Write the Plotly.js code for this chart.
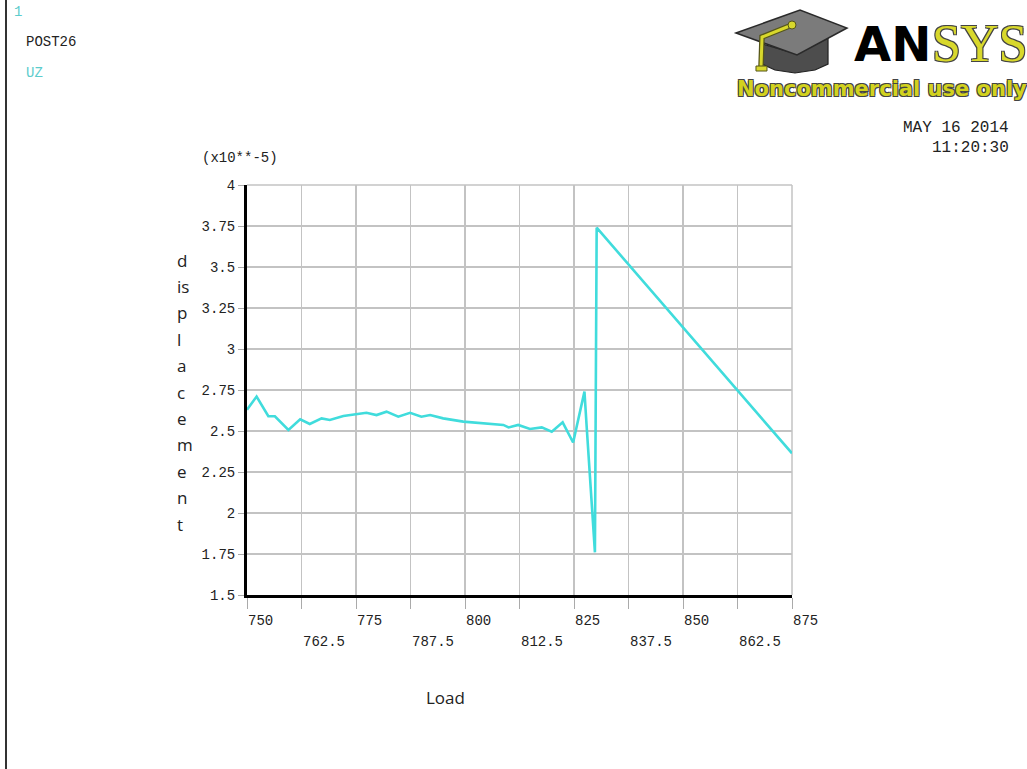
<!DOCTYPE html>
<html>
<head>
<meta charset="utf-8">
<script src="https://cdn.plot.ly/plotly-3.0.1.min.js"></script>
<style>
html,body{margin:0;padding:0;background:#fff;}
#chart{width:1027px;height:769px;}
</style>
</head>
<body>
<div id="chart"></div>
<script>
// ---- data ----
const load = [750, 752.2, 754.9, 756.4, 759.5, 762.2, 764.4, 767.1, 769, 772.1, 777.4, 779.7, 782, 784.7, 787.4, 790, 792, 795, 799.6, 804.2, 808.8, 810, 812.2, 814.9, 817.6, 819.9, 822.4, 824.8, 827.4, 827.9, 828.7, 829.8, 830.2, 875];
const uz   = [2.63, 2.71, 2.59, 2.59, 2.506, 2.571, 2.543, 2.577, 2.567, 2.591, 2.611, 2.597, 2.618, 2.587, 2.611, 2.587, 2.597, 2.577, 2.557, 2.547, 2.537, 2.522, 2.537, 2.512, 2.522, 2.496, 2.553, 2.43, 2.74, 2.53, 2.22, 1.76, 3.74, 2.364];

const xTicksRow1 = [750, 775, 800, 825, 850, 875];
const xTicksRow2 = [762.5, 787.5, 812.5, 837.5, 862.5];
const xLabelsRow1 = ["750", "775", "800", "825", "850", "875"];
const xLabelsRow2 = ["762.5", "787.5", "812.5", "837.5", "862.5"];
const yTicks = [4, 3.75, 3.5, 3.25, 3, 2.75, 2.5, 2.25, 2, 1.75, 1.5];
const yLabels = ["4", "3.75", "3.5", "3.25", "3", "2.75", "2.5", "2.25", "2", "1.75", "1.5"];
const yTitleParts = ["d", "is", "p", "l", "a", "c", "e", "m", "e", "n", "t"];
const xTitle = "Load";
const scaleLabel = "(x10**-5)";
const headerLines = ["1", "POST26", "UZ"];
const dateLines = ["MAY 16 2014", "11:20:30"];

// ---- geometry helpers (pixel -> paper) ----
const L = 247, R = 792, T = 185, B = 595;
const px = v => (v - L) / (R - L);
const py = v => (B - v) / (B - T);
const pathOf = pts => pts.map((p, i) => (i ? 'L' : 'M') + px(p[0]).toFixed(4) + ',' + py(p[1]).toFixed(4)).join(' ');

const mono = '"Liberation Mono", "DejaVu Sans Mono", monospace';
const sans = '"Open Sans", "Noto Sans", sans-serif';

const annotations = [];
// x tick labels (two staggered rows, left-aligned at tick)
xTicksRow1.forEach((v, i) => annotations.push({x: v, xref: 'x', y: py(621), yref: 'paper', text: xLabelsRow1[i], showarrow: false, xanchor: 'left', yanchor: 'middle', xshift: -1, font: {family: mono, size: 14, color: '#222'}}));
xTicksRow2.forEach((v, i) => annotations.push({x: v, xref: 'x', y: py(642), yref: 'paper', text: xLabelsRow2[i], showarrow: false, xanchor: 'left', yanchor: 'middle', xshift: -1, font: {family: mono, size: 14, color: '#222'}}));
// stacked y title
yTitleParts.forEach((s, i) => annotations.push({x: px(175), xref: 'paper', y: py(260 + i * 26.4), yref: 'paper', text: s, showarrow: false, xanchor: 'left', yanchor: 'middle', font: {family: sans, size: 17, color: '#222'}}));
// x title
annotations.push({x: px(445), xref: 'paper', y: py(697), yref: 'paper', text: xTitle, showarrow: false, xanchor: 'center', yanchor: 'middle', font: {family: sans, size: 17, color: '#222'}});
// scale label
annotations.push({x: px(200), xref: 'paper', y: py(158), yref: 'paper', text: scaleLabel, showarrow: false, xanchor: 'left', yanchor: 'middle', font: {family: mono, size: 14, color: '#222'}});
// header
annotations.push({x: px(12), xref: 'paper', y: py(12), yref: 'paper', text: headerLines[0], showarrow: false, xanchor: 'left', yanchor: 'middle', font: {family: mono, size: 14, color: '#5ccccc'}});
annotations.push({x: px(24), xref: 'paper', y: py(42), yref: 'paper', text: headerLines[1], showarrow: false, xanchor: 'left', yanchor: 'middle', font: {family: mono, size: 14, color: '#222'}});
annotations.push({x: px(24), xref: 'paper', y: py(73), yref: 'paper', text: headerLines[2], showarrow: false, xanchor: 'left', yanchor: 'middle', font: {family: mono, size: 14, color: '#5ccccc'}});
// date / time
annotations.push({x: px(1011), xref: 'paper', y: py(128), yref: 'paper', text: dateLines[0], showarrow: false, xanchor: 'right', yanchor: 'middle', font: {family: mono, size: 16, color: '#222'}});
annotations.push({x: px(1011), xref: 'paper', y: py(148), yref: 'paper', text: dateLines[1], showarrow: false, xanchor: 'right', yanchor: 'middle', font: {family: mono, size: 16, color: '#222'}});
// logo text
const outline = '1px 1px 0 #444, -1px -1px 0 #444, 1px -1px 0 #444, -1px 1px 0 #444';
annotations.push({x: px(852), xref: 'paper', y: py(44), yref: 'paper', text: '<b>AN</b>', showarrow: false, xanchor: 'left', yanchor: 'middle', font: {family: '"DejaVu Sans", sans-serif', size: 48, color: '#000'}});
annotations.push({x: px(1029), xref: 'paper', y: py(44), yref: 'paper', text: 'SYS', showarrow: false, xanchor: 'right', yanchor: 'middle', font: {family: '"Liberation Serif", serif', size: 52, color: '#d8d82c', shadow: outline}});
annotations.push({x: px(1029), xref: 'paper', y: py(89), yref: 'paper', text: '<b>Noncommercial use only</b>', showarrow: false, xanchor: 'right', yanchor: 'middle', font: {family: '"DejaVu Sans", sans-serif', size: 21, color: '#d2d21e', shadow: outline}});

const shapes = [
  // left frame line
  {type: 'line', xref: 'paper', yref: 'paper', x0: px(6), x1: px(6), y0: py(0), y1: py(769), line: {color: '#333', width: 2}},
  // top and right plot borders (gray)
  {type: 'line', xref: 'paper', yref: 'paper', x0: 0, x1: 1, y0: 1, y1: 1, line: {color: '#c3c3c3', width: 1.5}, layer: 'below'},
  {type: 'line', xref: 'paper', yref: 'paper', x0: 1, x1: 1, y0: 0, y1: 1, line: {color: '#c3c3c3', width: 1.5}, layer: 'below'},
  // hat cap
  {type: 'path', xref: 'paper', yref: 'paper', path: pathOf([[762, 44], [762, 64], [775, 70], [795, 73], [815, 70], [828, 64], [828, 38], [797, 54]]) + ' Z', fillcolor: '#4d4d4d', line: {color: '#222', width: 1.2}},
  // hat board
  {type: 'path', xref: 'paper', yref: 'paper', path: pathOf([[736, 33], [800, 10], [847, 28], [797, 55]]) + ' Z', fillcolor: '#7b7b7b', line: {color: '#2a2a2a', width: 1.5}},
  // tassel outline + tassel
  {type: 'path', xref: 'paper', yref: 'paper', path: pathOf([[792, 25], [762, 37], [761, 67]]), line: {color: '#55551a', width: 5.5}},
  {type: 'path', xref: 'paper', yref: 'paper', path: pathOf([[792, 25], [762, 37], [761, 67]]), line: {color: '#d8d82c', width: 3}},
  {type: 'path', xref: 'paper', yref: 'paper', path: pathOf([[756, 66], [767, 66], [767, 71], [756, 71]]) + ' Z', fillcolor: '#d8d82c', line: {color: '#55551a', width: 1}},
  {type: 'circle', xref: 'paper', yref: 'paper', x0: px(788), x1: px(796), y0: py(21), y1: py(29), fillcolor: '#d8d82c', line: {color: '#55551a', width: 1}}
];

const trace = {
  x: load, y: uz, type: 'scatter', mode: 'lines',
  line: {color: '#40dcdc', width: 2.6},
  hoverinfo: 'skip'
};

const layout = {
  width: 1027, height: 769,
  margin: {l: L, r: 1027 - R, t: T, b: 769 - B, pad: 0},
  paper_bgcolor: '#ffffff', plot_bgcolor: '#ffffff',
  showlegend: false,
  xaxis: {
    range: [750, 875], tickvals: xTicksRow1.concat(xTicksRow2), showticklabels: false,
    ticks: 'outside', ticklen: 11, tickcolor: '#aaaaaa', tickwidth: 1,
    showgrid: true, gridcolor: '#c3c3c3', gridwidth: 1.5,
    showline: true, linecolor: '#000', linewidth: 3, zeroline: false, fixedrange: true
  },
  yaxis: {
    range: [1.5, 4], tickvals: yTicks, ticktext: yLabels,
    ticks: 'outside', ticklen: 6, tickcolor: '#aaaaaa', tickwidth: 1,
    tickfont: {family: mono, size: 14, color: '#222'},
    showgrid: true, gridcolor: '#c3c3c3', gridwidth: 1.5,
    showline: true, linecolor: '#000', linewidth: 3, zeroline: false, fixedrange: true
  },
  annotations: annotations,
  shapes: shapes
};

Plotly.newPlot('chart', [trace], layout, {staticPlot: true, displayModeBar: false});
</script>
</body>
</html>
